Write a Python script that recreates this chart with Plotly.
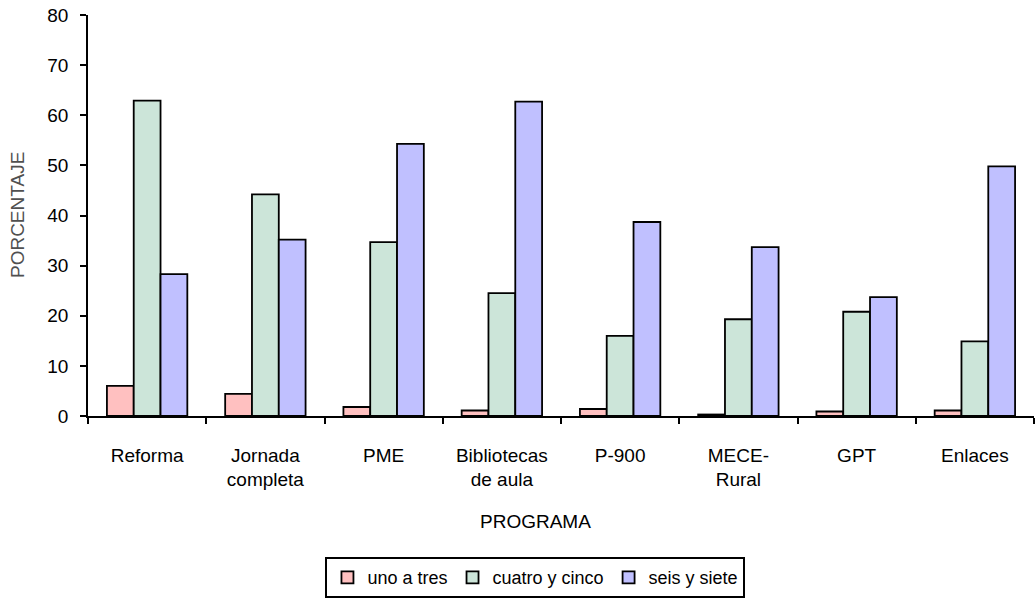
import plotly.graph_objects as go

# Programas evaluados (etiquetas del eje X, con salto de línea)
programas = ["Reforma", "Jornada<br>completa", "PME", "Bibliotecas<br>de aula",
             "P-900", "MECE-<br>Rural", "GPT", "Enlaces"]

# Porcentajes por grupo de grados
uno_a_tres = [6.0, 4.4, 1.8, 1.1, 1.4, 0.3, 0.9, 1.1]
cuatro_y_cinco = [62.9, 44.2, 34.7, 24.5, 16.0, 19.3, 20.8, 14.9]
seis_y_siete = [28.3, 35.2, 54.3, 62.7, 38.7, 33.7, 23.7, 49.8]

series = [
    ("uno a tres", uno_a_tres, "#FFC0C0"),
    ("cuatro y cinco", cuatro_y_cinco, "#CCE5D9"),
    ("seis y siete", seis_y_siete, "#C0C0FF"),
]

fig = go.Figure()
for nombre, valores, color in series:
    fig.add_trace(go.Bar(
        x=programas, y=valores, name=nombre,
        marker=dict(color=color, line=dict(color="black", width=1.8)),
    ))

font_family = "Liberation Sans, Arial, sans-serif"

fig.update_layout(
    width=1035, height=599,
    margin=dict(l=88, r=1, t=15, b=176),
    paper_bgcolor="white", plot_bgcolor="white",
    barmode="group", bargap=0.32, bargroupgap=0,
    font=dict(family=font_family, size=19, color="black"),
    showlegend=True,
    legend=dict(
        orientation="h", x=0.473, xanchor="center", y=-0.352, yanchor="top",
        bordercolor="black", borderwidth=2,
        font=dict(size=18), itemwidth=30, tracegroupgap=0,
        traceorder="normal",
    ),
    xaxis=dict(
        showline=True, linecolor="black", linewidth=1.8,
        ticks="outside", tickson="boundaries", ticklen=6, tickwidth=1.8,
        tickcolor="black", showgrid=False, zeroline=False,
        tickfont=dict(size=19), ticklabelstandoff=21,
    ),
    yaxis=dict(
        range=[0, 80], dtick=10, showline=True, linecolor="black", linewidth=1.8,
        ticks="outside", ticklen=6, tickwidth=1.8, tickcolor="black",
        showgrid=False, zeroline=False, tickfont=dict(size=19),
        ticklabelstandoff=8,
    ),
    annotations=[
        dict(text="PROGRAMA", xref="paper", yref="paper", x=0.473, y=-0.263,
             xanchor="center", yanchor="middle", showarrow=False,
             font=dict(size=19, color="black")),
        dict(text="PORCENTAJE", xref="paper", yref="paper", x=-0.0745, y=0.5,
             xanchor="center", yanchor="middle", showarrow=False, textangle=-90,
             font=dict(size=19, color="#505050")),
    ],
)

fig.write_html("out.html")
